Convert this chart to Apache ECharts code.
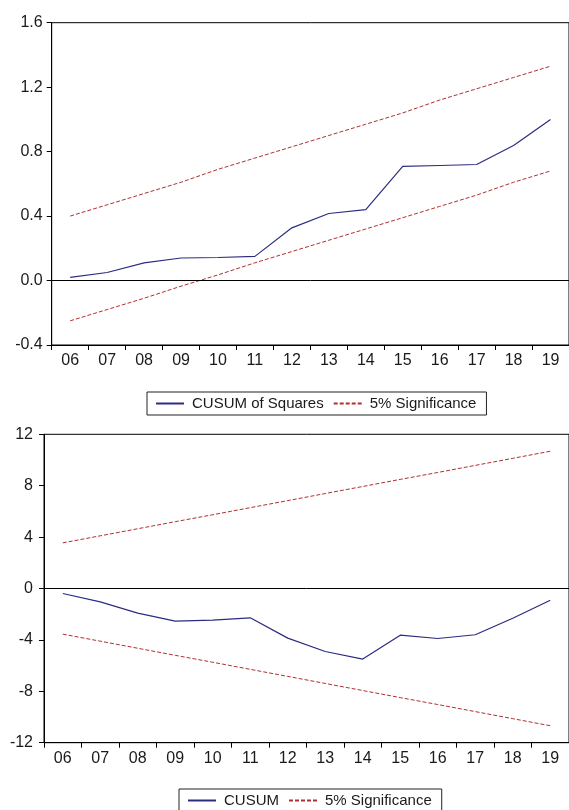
<!DOCTYPE html>
<html>
<head>
<meta charset="utf-8">
<script src="https://cdn.jsdelivr.net/npm/echarts@6/dist/echarts.min.js"></script>
<style>
  html, body { margin: 0; padding: 0; background: #fff; overflow: hidden; }
  #chart { width: 569px; height: 810px; }
</style>
</head>
<body>
<div id="chart"></div>
<script>
// ---- data ----
const years = ['06','07','08','09','10','11','12','13','14','15','16','17','18','19'];

// top panel: CUSUM of Squares
const cusumSq      = [0.02, 0.05, 0.11, 0.14, 0.143, 0.15, 0.327, 0.416, 0.44, 0.708, 0.714, 0.72, 0.838, 1.0];
const cusumSqUpper = [0.40, 0.47, 0.54, 0.61, 0.69, 0.76, 0.83, 0.90, 0.97, 1.04, 1.12, 1.19, 1.26, 1.33];
const cusumSqLower = [-0.25, -0.18, -0.11, -0.035, 0.035, 0.11, 0.18, 0.25, 0.32, 0.39, 0.46, 0.53, 0.61, 0.68];

// bottom panel: CUSUM
const cusum      = [-0.39, -1.04, -1.92, -2.54, -2.46, -2.28, -3.86, -4.90, -5.49, -3.63, -3.89, -3.60, -2.31, -0.91];
const cusumUpper = [3.55, 4.10, 4.65, 5.20, 5.74, 6.29, 6.84, 7.39, 7.94, 8.49, 9.03, 9.58, 10.13, 10.68];
const cusumLower = [-3.55, -4.10, -4.65, -5.20, -5.74, -6.29, -6.84, -7.39, -7.94, -8.49, -9.03, -9.58, -10.13, -10.68];

const topTicks = { min: -0.4, max: 1.6, interval: 0.4 };
const botTicks = { min: -12, max: 12, interval: 4 };

const sqName = 'CUSUM of Squares';
const cuName = 'CUSUM';
const sigName = '5% Significance';

// ---- styles ----
const FONT = "'Liberation Sans', Arial, sans-serif";
const BLUE = '#2c2c80';
const RED = '#b03030';
const INK = '#1a1a1a';

const chart = echarts.init(document.getElementById('chart'), null, { renderer: 'canvas' });

function xAxisCfg(gi) {
  return {
    type: 'category', gridIndex: gi, data: years, boundaryGap: true,
    axisLine: { show: true, onZero: false, lineStyle: { color: '#000', width: 1 } },
    axisTick: { show: true, inside: false, length: 5, alignWithLabel: false, lineStyle: { color: '#000' } },
    axisLabel: { color: INK, fontSize: 16, fontFamily: FONT, margin: 8, interval: 0 },
    splitLine: { show: false }
  };
}
function yAxisCfg(gi, t, fmt, margin) {
  return {
    type: 'value', gridIndex: gi, min: t.min, max: t.max, interval: t.interval,
    axisLine: { show: true, lineStyle: { color: '#000', width: 1 } },
    axisTick: { show: true, inside: false, length: 5, lineStyle: { color: '#000' } },
    axisLabel: { color: INK, fontSize: 16, fontFamily: FONT, margin: margin, formatter: fmt, padding: [0, 0, 6, 0] },
    splitLine: { show: false }
  };
}
function zeroLine() {
  return {
    silent: true, symbol: ['none', 'none'], label: { show: false },
    lineStyle: { color: '#000', type: 'solid', width: 1 },
    emphasis: { disabled: true },
    data: [{ yAxis: 0 }]
  };
}
function lineSeries(name, data, gi, color, dashed, withZero) {
  const s = {
    name: name, type: 'line', xAxisIndex: gi, yAxisIndex: gi, data: data,
    symbol: 'none', smooth: false, silent: true, animation: false,
    lineStyle: { color: color, width: dashed ? 1 : 1.2, type: dashed ? [4, 2] : 'solid' },
    itemStyle: { color: color }
  };
  if (withZero) s.markLine = zeroLine();
  return s;
}
function legendCfg(left, top, names) {
  return {
    left: left, top: top, data: names,
    orient: 'horizontal',
    itemWidth: 28, itemHeight: 14, itemGap: 9,
    padding: [4, 10, 4, 8],
    borderColor: '#222', borderWidth: 1, borderRadius: 0,
    backgroundColor: '#fff',
    selectedMode: false,
    itemStyle: { opacity: 0 },
    textStyle: { color: INK, fontSize: 15, fontFamily: FONT, padding: [0, 0, 0, 3], lineHeight: 15 }
  };
}

const option = {
  animation: false,
  backgroundColor: '#fff',
  grid: [
    { left: 51.7, top: 22.7, width: 525, height: 322.3, show: true, borderColor: '#000', borderWidth: 1, containLabel: false },
    { left: 44, top: 434.3, width: 536, height: 308.4, show: true, borderColor: '#000', borderWidth: 1, containLabel: false }
  ],
  xAxis: [xAxisCfg(0), xAxisCfg(1)],
  yAxis: [
    yAxisCfg(0, topTicks, v => (Math.abs(v) < 1e-9 ? 0 : v).toFixed(1), 9),
    yAxisCfg(1, botTicks, v => String(Math.round(v)), 11)
  ],
  legend: [
    legendCfg(147, 392, [sqName, sigName]),
    legendCfg(179, 789, [cuName, sigName])
  ],
  series: [
    lineSeries(sqName, cusumSq, 0, BLUE, false, true),
    lineSeries(sigName, cusumSqUpper, 0, RED, true, false),
    lineSeries(sigName, cusumSqLower, 0, RED, true, false),
    lineSeries(cuName, cusum, 1, BLUE, false, true),
    lineSeries(sigName, cusumUpper, 1, RED, true, false),
    lineSeries(sigName, cusumLower, 1, RED, true, false)
  ]
};
chart.setOption(option);
</script>
</body>
</html>
